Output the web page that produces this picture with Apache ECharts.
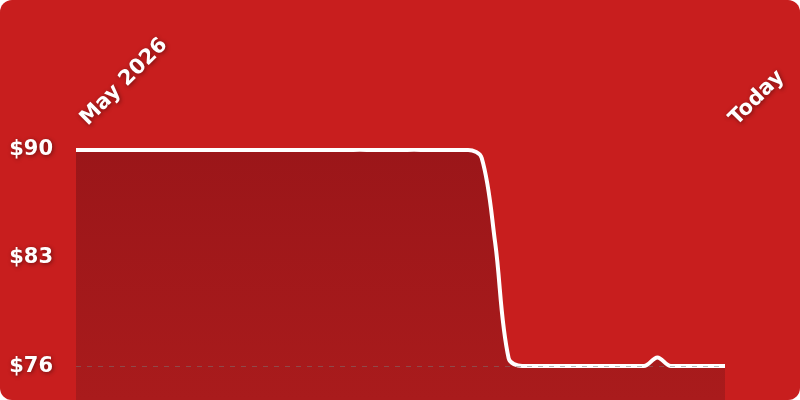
<!DOCTYPE html>
<html>
<head>
<meta charset="utf-8">
<script src="https://cdn.jsdelivr.net/npm/echarts@6/dist/echarts.min.js"></script>
<style>
  html, body { margin: 0; padding: 0; background: #ffffff; }
  #main { width: 800px; height: 400px; background: #c81e1e; border-radius: 12px; overflow: hidden; }
</style>
</head>
<body>
<div id="main"></div>
<script>
// price history, one point per step from May 2026 to today
const prices = [
  90, 90, 90, 90, 90, 90, 90, 90, 90, 90,
  90, 90, 90, 90, 90, 90, 90, 90, 90, 90,
  90, 90.01, 90, 90, 90, 90.01, 90, 90, 90, 90,
  89.5, 84, 76.5, 76, 76, 76, 76, 76, 76, 76,
  76, 76, 76, 76.55, 76, 76, 76, 76, 76
]
const xLabels = prices.map((v, i) => i === 0 ? 'May 2026' : (i === prices.length - 1 ? 'Today' : ''))
const yTicks = [76, 83, 90]

const labelText = {
  color: '#ffffff',
  fontFamily: '"DejaVu Sans", sans-serif',
  fontWeight: 'bold',
  fontSize: 21,
  textShadowColor: 'rgba(0, 0, 0, 0.45)',
  textShadowBlur: 4,
  textShadowOffsetX: 1,
  textShadowOffsetY: 1
}

var myChart = echarts.init(document.getElementById('main'))

option = {
  animation: false,
  grid: { left: 76, right: 75, top: 150, bottom: 0 },
  xAxis: {
    type: 'category',
    position: 'top',
    boundaryGap: false,
    data: xLabels,
    axisLine: { show: false },
    axisTick: { show: false },
    splitLine: { show: false },
    axisLabel: Object.assign({ interval: 0, rotate: -45, margin: 20, padding: [0, 0, 0, 11] }, labelText)
  },
  yAxis: {
    type: 'value',
    min: 73.8,
    max: 90,
    axisLine: { show: false },
    axisTick: { show: false },
    splitLine: { show: false },
    axisLabel: Object.assign({
      customValues: yTicks,
      margin: 23,
      formatter: v => '$' + Math.round(v)
    }, labelText)
  },
  series: [
    {
      type: 'line',
      data: prices,
      smooth: 0.35,
      symbol: 'none',
      lineStyle: { color: '#ffffff', width: 4 },
      areaStyle: {
        opacity: 1,
        color: new echarts.graphic.LinearGradient(0, 0, 0, 1, [
          { offset: 0, color: '#9b1619' },
          { offset: 1, color: '#a91b1c' }
        ])
      },
      markLine: {
        silent: true,
        symbol: 'none',
        label: { show: false },
        lineStyle: { color: 'rgba(120, 120, 120, 0.5)', type: [5, 6], width: 1 },
        data: [{ yAxis: 76 }]
      }
    }
  ]
}

myChart.setOption(option)
</script>
</body>
</html>
